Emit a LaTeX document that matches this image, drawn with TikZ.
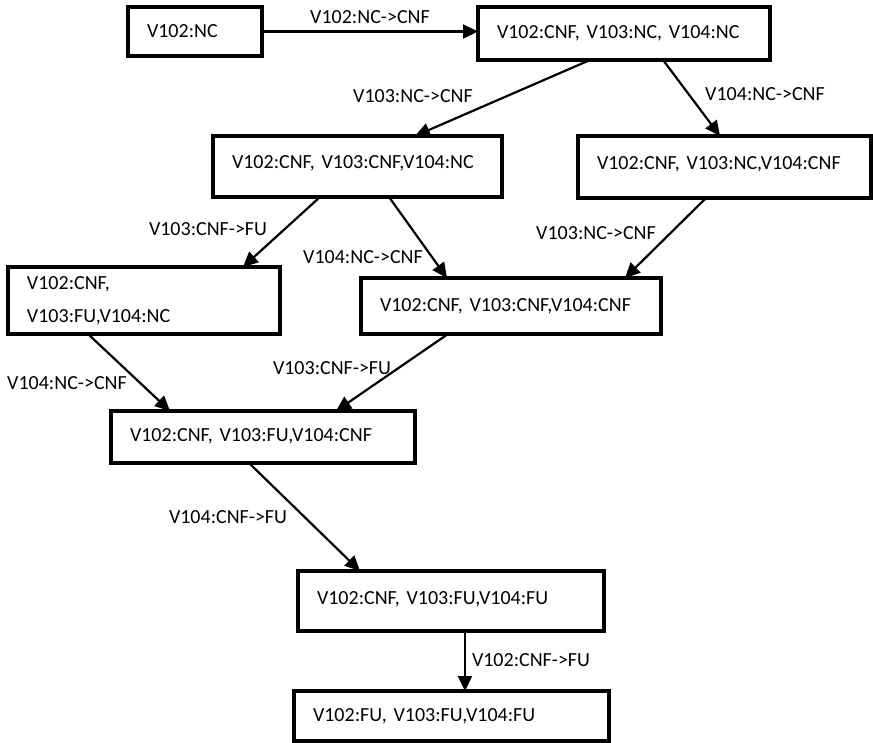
\documentclass[tikz,border=0pt]{standalone}
\usepackage{fontspec}
\setmainfont{Carlito}
\usetikzlibrary{arrows.meta}
\begin{document}
\begin{tikzpicture}[x=1pt,y=-1pt,font=\fontsize{20pt}{33pt}\selectfont,
  box/.style={draw, line width=3.2pt, rectangle, anchor=north west, inner xsep=19pt, inner ysep=0pt, outer sep=0pt, align=left},
  lbl/.style={inner sep=0pt},
  arr/.style={line width=2.2pt, -{Triangle[length=15pt,width=14pt]}}]
\useasboundingbox (0,0) rectangle (873,743);
% boxes
\node[box, text width=96pt,  minimum height=49pt] (A) at (128,7)   {V102:NC};
\node[box, text width=254pt, minimum height=53pt] (B) at (478,7)   {V102:CNF, V103:NC, V104:NC};
\node[box, text width=251pt, minimum height=61pt] (C) at (213,136) {\raisebox{8pt}{V102:CNF, V103:CNF,V104:NC}};
\node[box, text width=255pt, minimum height=62pt] (D) at (578,136) {\raisebox{7pt}{V102:CNF, V103:NC,V104:CNF}};
\node[box, text width=234pt, minimum height=67pt] (E) at (8,267)   {V102:CNF,\\V103:FU,V104:NC};
\node[box, text width=262pt, minimum height=56pt] (F) at (361,278) {V102:CNF, V103:CNF,V104:CNF};
\node[box, text width=266pt, minimum height=52pt] (G) at (111,411) {\raisebox{4pt}{V102:CNF, V103:FU,V104:CNF}};
\node[box, text width=268pt, minimum height=60pt] (H) at (298,571) {\raisebox{5pt}{V102:CNF, V103:FU,V104:FU}};
\node[box, text width=277pt, minimum height=50pt] (I) at (294,691) {V102:FU, V103:FU,V104:FU};
% labels
\node[lbl] (l1)  at (370,17)  {V102:NC->CNF};
\node[lbl] (l2)  at (413,96)  {V103:NC->CNF};
\node[lbl] (l3)  at (765,94)  {V104:NC->CNF};
\node[lbl] (l4)  at (208,229) {V103:CNF->FU};
\node[lbl] (l5)  at (363,257) {V104:NC->CNF};
\node[lbl] (l6)  at (596,233) {V103:NC->CNF};
\node[lbl] (l7)  at (67,383)  {V104:NC->CNF};
\node[lbl] (l8)  at (332,368) {V103:CNF->FU};
\node[lbl] (l9)  at (228,517) {V104:CNF->FU};
\node[lbl] (l10) at (531,660) {V102:CNF->FU};
% connectors
\draw[arr] (A.east) -- (A.east -| B.west);
\draw[arr] ([xshift=112pt]B.south west) -- ([xshift=202pt]C.north west);
\draw[arr] ([xshift=185pt]B.south west) -- ([xshift=142pt]D.north west);
\draw[arr] ([xshift=107pt]C.south west) -- ([xshift=235pt]E.north west);
\draw[arr] ([xshift=176pt]C.south west) -- ([xshift=86pt]F.north west);
\draw[arr] ([xshift=128pt]D.south west) -- ([xshift=264pt]F.north west);
\draw[arr] ([xshift=80pt]E.south west) -- ([xshift=59pt]G.north west);
\draw[arr] ([xshift=87pt]F.south west) -- ([xshift=225pt]G.north west);
\draw[arr] ([xshift=138pt]G.south west) -- ([xshift=62pt]H.north west);
\draw[arr] ([xshift=167pt]H.south west) -- ([xshift=167pt]H.south west |- I.north);
\end{tikzpicture}
\end{document}
